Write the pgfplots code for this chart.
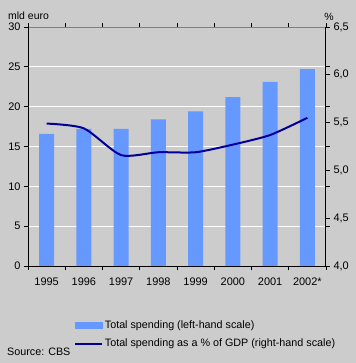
\documentclass[border=0pt]{standalone}
\usepackage{fontspec}
\setmainfont{Liberation Sans}
\usepackage{pgfplots}
\pgfplotsset{compat=1.18}
\definecolor{bg}{HTML}{CCCCCC}
\definecolor{barc}{HTML}{6699FF}
\definecolor{linec}{HTML}{000099}
\definecolor{topline}{HTML}{808080}
\begin{document}
\begin{tikzpicture}[x=1bp,y=1bp]
\fill[bg] (0,0) rectangle (356,-363);
\node[anchor=west,inner sep=0,font=\fontsize{10.5}{12}\selectfont] at (8,-16) {mld euro};
\node[inner sep=0,font=\fontsize{10.5}{12}\selectfont] at (329,-17) {\%};
\node[anchor=west,inner sep=0,font=\fontsize{10.8}{12}\selectfont] at (7,-352) {Source: CBS};
\begin{axis}[
  at={(28bp,-266bp)}, anchor=south west,
  scale only axis, width=298bp, height=239bp,
  xmin=-0.5, xmax=7.5, ymin=0, ymax=30,
  axis line style={draw=none},
  xtick={0,...,7},
  xticklabels={1995,1996,1997,1998,1999,2000,2001,2002*},
  xticklabel style={yshift=-4bp},
  every major x tick/.append style={draw=none},
  minor xtick={-0.5,0.5,...,7.5},
  minor tick length=4bp,
  every minor x tick/.append style={black, line width=0.8bp},
  ytick={0,5,...,30},
  major tick length=4bp,
  tick align=outside,
  every major y tick/.append style={black, line width=0.8bp},
  ymajorgrids, grid style={white, line width=1bp},
  tick label style={font=\fontsize{11}{13}\selectfont},
  /pgf/number format/assume math mode=true,
  clip=false,
]
\addplot[ybar, bar width=15bp, fill=barc, draw=none] coordinates {
  (0,16.6) (1,17.2) (2,17.2) (3,18.4) (4,19.4) (5,21.2) (6,23.1) (7,24.7)};
\draw[topline, line width=1bp] (axis cs:-0.5,30) -- (axis cs:7.5,30);
\draw[black, line width=1bp] (axis cs:-0.5,30) -- (axis cs:-0.5,0) -- (axis cs:7.5,0);
\end{axis}
\begin{axis}[
  at={(28bp,-266bp)}, anchor=south west,
  scale only axis, width=298bp, height=239bp,
  xmin=-0.5, xmax=7.5, ymin=4, ymax=6.5,
  axis x line=none,
  axis y line*=right,
  axis line style={black, line width=1bp, -},
  ytick={4,4.5,...,6.5},
  major tick length=4bp,
  tick align=outside,
  every major y tick/.append style={black, line width=0.8bp},
  yticklabel style={/pgf/number format/.cd, use comma, fixed, fixed zerofill, precision=1},
  tick label style={font=\fontsize{11}{13}\selectfont},
  /pgf/number format/assume math mode=true,
  clip=false,
  legend style={at={(0.155,-0.222)}, anchor=north west, draw=none, fill=none,
    font=\fontsize{10.8}{12}\selectfont, row sep=6bp, inner sep=0pt,
    nodes={inner sep=1.5bp}},
  legend cell align=left,
  legend image code/.code={\draw[#1,sharp plot] (0bp,0bp) -- (27bp,0bp);},
]
\addlegendimage{legend image code/.code={\fill[barc] (0bp,-3bp) rectangle (27bp,3bp);}}
\addlegendentry{Total spending (left-hand scale)}
\addplot[linec, line width=2bp, smooth, tension=0.4] coordinates {
  (0,5.49) (1,5.44) (2,5.16) (3,5.19) (4,5.19) (5,5.27) (6,5.37) (7,5.55)};
\addlegendentry{Total spending as a \% of GDP (right-hand scale)}
\end{axis}
\end{tikzpicture}
\end{document}
